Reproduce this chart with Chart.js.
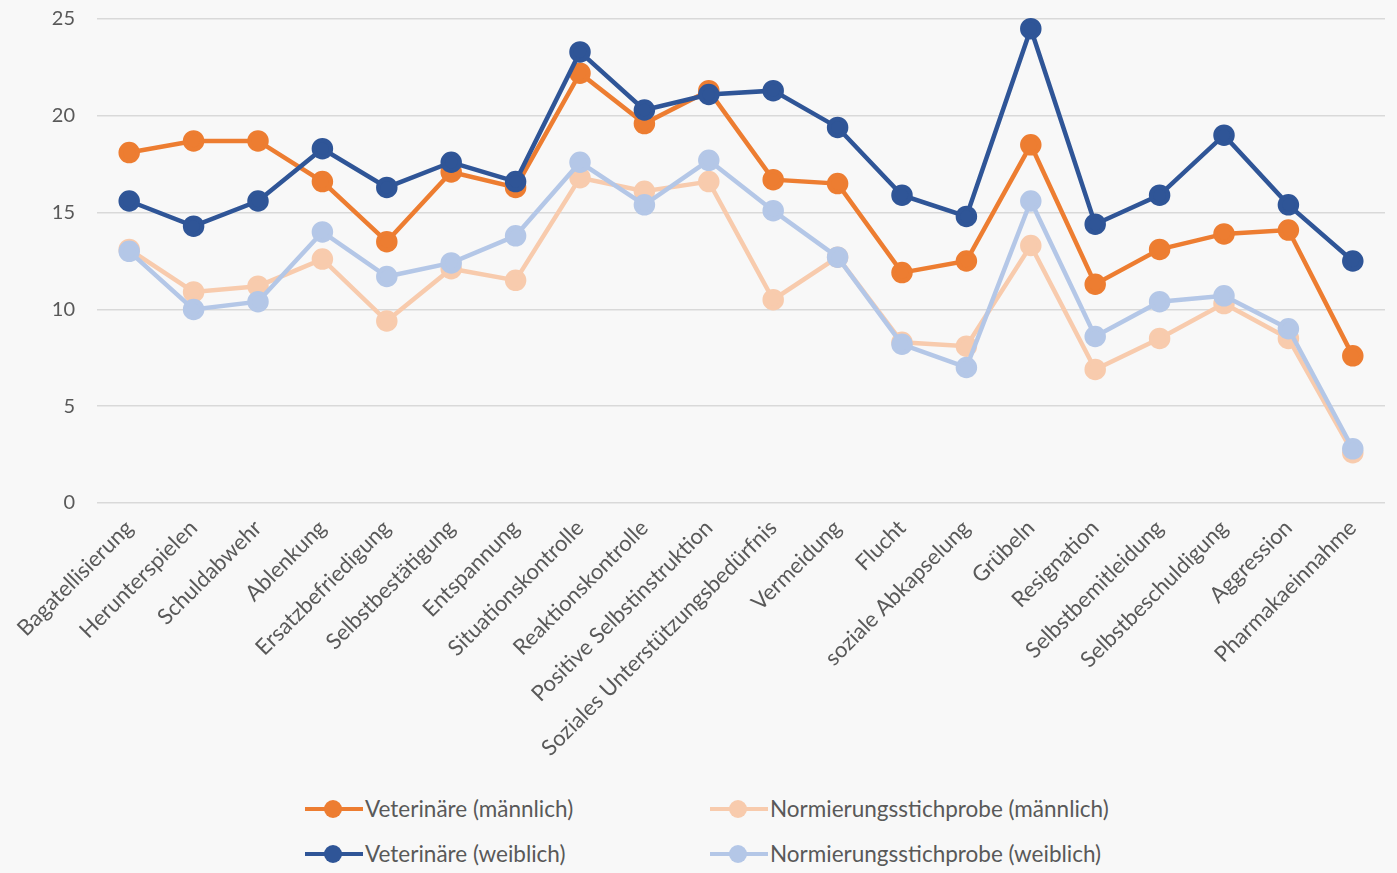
<!DOCTYPE html>
<html>
<head>
<meta charset="utf-8">
<script src="https://cdn.jsdelivr.net/npm/chart.js@4.4.1/dist/chart.umd.min.js"></script>
<style>
    body { margin: 0; background: #f8f8f8; width: 1397px; height: 873px; overflow: hidden; font-family: Lato, "Open Sans", sans-serif; }
    #wrap { position: absolute; left: 0; top: 0; width: 1397px; height: 780px; }
    .leg { position: absolute; display: flex; align-items: center; font-size: 22.5px; color: #595959; white-space: nowrap; }
    .sw { position: relative; width: 58px; height: 18px; margin-right: 2px; }
    .sw i { position: absolute; left: 0; right: 0; top: 7px; height: 4.5px; }
    .sw b { position: absolute; left: 19px; top: 0; width: 18px; height: 18px; border-radius: 50%; }
</style>
</head>
<body>
<div id="wrap"><canvas id="myChart"></canvas></div>
<div id="legende"></div>
<script>
const kategorien = [
    'Bagatellisierung', 'Herunterspielen', 'Schuldabwehr', 'Ablenkung', 'Ersatzbefriedigung',
    'Selbstbestätigung', 'Entspannung', 'Situationskontrolle', 'Reaktionskontrolle',
    'Positive Selbstinstruktion', 'Soziales Unterstützungsbedürfnis', 'Vermeidung', 'Flucht',
    'soziale Abkapselung', 'Grübeln', 'Resignation', 'Selbstbemitleidung', 'Selbstbeschuldigung',
    'Aggression', 'Pharmakaeinnahme'
];
const vetMaennlich  = [18.1, 18.7, 18.7, 16.6, 13.5, 17.1, 16.3, 22.2, 19.6, 21.3, 16.7, 16.5, 11.9, 12.5, 18.5, 11.3, 13.1, 13.9, 14.1, 7.6];
const normMaennlich = [13.1, 10.9, 11.2, 12.6, 9.4, 12.1, 11.5, 16.8, 16.1, 16.6, 10.5, 12.7, 8.3, 8.1, 13.3, 6.9, 8.5, 10.3, 8.5, 2.6];
const vetWeiblich   = [15.6, 14.3, 15.6, 18.3, 16.3, 17.6, 16.6, 23.3, 20.3, 21.1, 21.3, 19.4, 15.9, 14.8, 24.5, 14.4, 15.9, 19.0, 15.4, 12.5];
const normWeiblich  = [13.0, 10.0, 10.4, 14.0, 11.7, 12.4, 13.8, 17.6, 15.4, 17.7, 15.1, 12.7, 8.2, 7.0, 15.6, 8.6, 10.4, 10.7, 9.0, 2.8];
const yTicks = [0, 5, 10, 15, 20, 25];

const serien = [
    { label: 'Veterinäre (männlich)', data: vetMaennlich, color: '#ED7D31', order: 1 },
    { label: 'Normierungsstichprobe (männlich)', data: normMaennlich, color: '#F8CBAD', order: 3 },
    { label: 'Veterinäre (weiblich)', data: vetWeiblich, color: '#2F5597', order: 0 },
    { label: 'Normierungsstichprobe (weiblich)', data: normWeiblich, color: '#B4C7E7', order: 2 }
];

const textFarbe = '#595959';

new Chart(document.getElementById('myChart'), {
    type: 'line',
    data: {
        labels: kategorien,
        datasets: serien.map(s => ({
            label: s.label,
            data: s.data,
            order: s.order,
            borderColor: s.color,
            backgroundColor: s.color,
            pointBackgroundColor: s.color,
            pointBorderColor: s.color,
            borderWidth: 4.5,
            pointRadius: 8.5,
            pointHoverRadius: 8.5,
            tension: 0,
            clip: false
        }))
    },
    options: {
        responsive: true,
        maintainAspectRatio: false,
        animation: false,
        layout: { autoPadding: false, padding: { left: 0, right: 12, top: 19, bottom: 0 } },
        plugins: {
            legend: { display: false },
            tooltip: { enabled: false }
        },
        scales: {
            x: {
                offset: true,
                grid: { display: false },
                border: { display: false },
                afterFit: scale => { scale.height = 277; },
                ticks: {
                    autoSkip: false,
                    maxRotation: 45,
                    minRotation: 45,
                    padding: 4,
                    color: textFarbe,
                    font: { family: 'Lato', size: 22 }
                }
            },
            y: {
                min: 0,
                max: 25,
                afterFit: scale => {
                    scale.width = 97;
                    scale.paddingTop = 0;
                    scale.paddingBottom = 0;
                },
                afterBuildTicks: scale => { scale.ticks = yTicks.map(v => ({ value: v })); },
                grid: { color: '#d9d9d9', lineWidth: 1.5, drawTicks: false },
                border: { display: false },
                ticks: {
                    padding: 22,
                    color: textFarbe,
                    font: { family: 'Lato', size: 20 }
                }
            }
        }
    }
});

// Legende in zwei Spalten wie im Original
const legende = document.getElementById('legende');
const posX = [305, 710];
const posY = [795, 840];
serien.forEach((s, i) => {
    const el = document.createElement('div');
    el.className = 'leg';
    el.style.left = posX[i % 2] + 'px';
    el.style.top = posY[Math.floor(i / 2)] + 'px';
    el.innerHTML = '<span class="sw"><i style="background:' + s.color + '"></i><b style="background:' + s.color + '"></b></span>' + s.label;
    legende.appendChild(el);
});
</script>
</body>
</html>
